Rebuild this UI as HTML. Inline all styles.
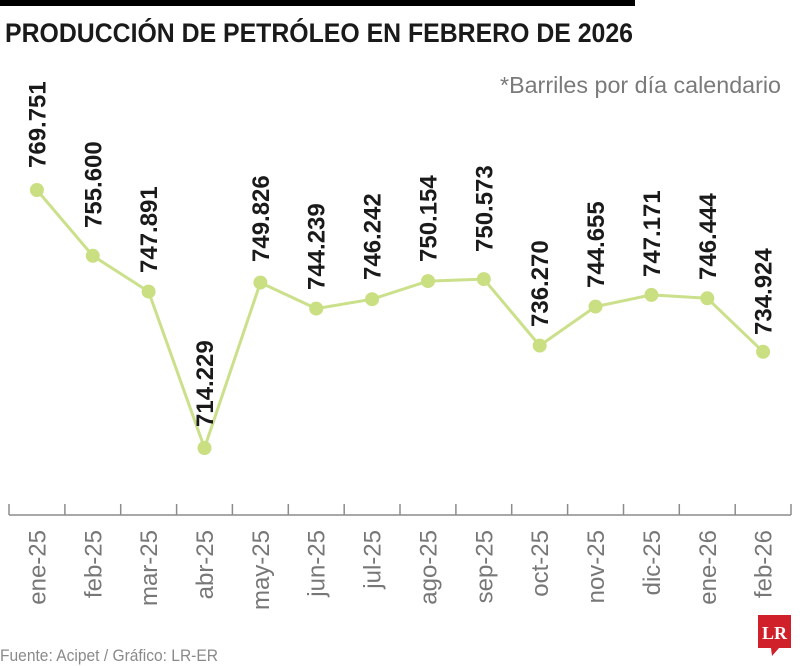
<!DOCTYPE html>
<html>
<head>
<meta charset="utf-8">
<style>
  html, body { margin: 0; padding: 0; background: #ffffff; }
  body { width: 800px; height: 666px; overflow: hidden; }
  svg { display: block; }
</style>
</head>
<body>
<svg width="800" height="666" viewBox="0 0 800 666" xmlns="http://www.w3.org/2000/svg">
  <rect x="0" y="0" width="800" height="666" fill="#ffffff"/>
  <!-- top bar -->
  <rect x="0" y="0" width="635" height="6" fill="#000000"/>
  <!-- title -->
  <text x="5" y="42" font-family="Liberation Sans, sans-serif" font-weight="bold" font-size="27" fill="#1a1a1a" textLength="628" lengthAdjust="spacingAndGlyphs">PRODUCCIÓN DE PETRÓLEO EN FEBRERO DE 2026</text>
  <!-- subtitle -->
  <text x="500" y="93" font-family="Liberation Sans, sans-serif" font-size="23" fill="#7a7a7a" textLength="281" lengthAdjust="spacingAndGlyphs">*Barriles por día calendario</text>

  <!-- axis -->
  <g stroke="#8c8c8c" stroke-width="1.5" fill="none">
    <line x1="9" y1="515" x2="791" y2="515"/>
    <line x1="9" y1="504" x2="9" y2="515"/>
    <line x1="64.9" y1="504" x2="64.9" y2="515"/>
    <line x1="120.7" y1="504" x2="120.7" y2="515"/>
    <line x1="176.6" y1="504" x2="176.6" y2="515"/>
    <line x1="232.4" y1="504" x2="232.4" y2="515"/>
    <line x1="288.3" y1="504" x2="288.3" y2="515"/>
    <line x1="344.2" y1="504" x2="344.2" y2="515"/>
    <line x1="400" y1="504" x2="400" y2="515"/>
    <line x1="455.9" y1="504" x2="455.9" y2="515"/>
    <line x1="511.7" y1="504" x2="511.7" y2="515"/>
    <line x1="567.6" y1="504" x2="567.6" y2="515"/>
    <line x1="623.5" y1="504" x2="623.5" y2="515"/>
    <line x1="679.3" y1="504" x2="679.3" y2="515"/>
    <line x1="735.2" y1="504" x2="735.2" y2="515"/>
    <line x1="791" y1="504" x2="791" y2="515"/>
  </g>

  <!-- x labels -->
  <g font-family="Liberation Sans, sans-serif" font-size="24" fill="#777777" text-anchor="end">
    <text transform="translate(45.4,530) rotate(-90)">ene-25</text>
    <text transform="translate(101.3,530) rotate(-90)">feb-25</text>
    <text transform="translate(157.1,530) rotate(-90)">mar-25</text>
    <text transform="translate(213,530) rotate(-90)">abr-25</text>
    <text transform="translate(268.9,530) rotate(-90)">may-25</text>
    <text transform="translate(324.7,530) rotate(-90)">jun-25</text>
    <text transform="translate(380.6,530) rotate(-90)">jul-25</text>
    <text transform="translate(436.5,530) rotate(-90)">ago-25</text>
    <text transform="translate(492.3,530) rotate(-90)">sep-25</text>
    <text transform="translate(548.2,530) rotate(-90)">oct-25</text>
    <text transform="translate(604,530) rotate(-90)">nov-25</text>
    <text transform="translate(659.9,530) rotate(-90)">dic-25</text>
    <text transform="translate(715.8,530) rotate(-90)">ene-26</text>
    <text transform="translate(771.6,530) rotate(-90)">feb-26</text>
  </g>

  <!-- series line -->
  <polyline fill="none" stroke="#cbe08a" stroke-width="3" stroke-linejoin="round"
    points="36.9,190 92.8,255.8 148.6,291.6 204.5,448 260.4,282.6 316.2,308.6 372.1,299.2 428,281.1 483.8,279.1 539.7,345.6 595.5,306.6 651.4,294.9 707.3,298.3 763.1,351.8"/>
  <g fill="#c9df82">
    <circle cx="36.9" cy="190" r="7"/>
    <circle cx="92.8" cy="255.8" r="7"/>
    <circle cx="148.6" cy="291.6" r="7"/>
    <circle cx="204.5" cy="448" r="7"/>
    <circle cx="260.4" cy="282.6" r="7"/>
    <circle cx="316.2" cy="308.6" r="7"/>
    <circle cx="372.1" cy="299.2" r="7"/>
    <circle cx="428" cy="281.1" r="7"/>
    <circle cx="483.8" cy="279.1" r="7"/>
    <circle cx="539.7" cy="345.6" r="7"/>
    <circle cx="595.5" cy="306.6" r="7"/>
    <circle cx="651.4" cy="294.9" r="7"/>
    <circle cx="707.3" cy="298.3" r="7"/>
    <circle cx="763.1" cy="351.8" r="7"/>
  </g>

  <!-- value labels -->
  <g font-family="Liberation Sans, sans-serif" font-size="24" font-weight="bold" fill="#1a1a1a" text-anchor="start">
    <text transform="translate(45.4,168) rotate(-90)">769.751</text>
    <text transform="translate(101.3,228) rotate(-90)">755.600</text>
    <text transform="translate(157.1,273) rotate(-90)">747.891</text>
    <text transform="translate(213,427) rotate(-90)">714.229</text>
    <text transform="translate(268.9,262) rotate(-90)">749.826</text>
    <text transform="translate(324.7,290) rotate(-90)">744.239</text>
    <text transform="translate(380.6,280) rotate(-90)">746.242</text>
    <text transform="translate(436.5,262) rotate(-90)">750.154</text>
    <text transform="translate(492.3,252) rotate(-90)">750.573</text>
    <text transform="translate(548.2,327) rotate(-90)">736.270</text>
    <text transform="translate(604,288) rotate(-90)">744.655</text>
    <text transform="translate(659.9,277) rotate(-90)">747.171</text>
    <text transform="translate(715.8,280) rotate(-90)">746.444</text>
    <text transform="translate(771.6,335) rotate(-90)">734.924</text>
  </g>

  <!-- footer -->
  <text x="0" y="661" font-family="Liberation Sans, sans-serif" font-size="17" fill="#8a8a8a" textLength="218" lengthAdjust="spacingAndGlyphs">Fuente: Acipet / Gráfico: LR-ER</text>

  <!-- LR logo -->
  <path d="M758,615 H791 V648 H779 L772,656 L771,648 H758 Z" fill="#d0202a"/>
  <text x="774.5" y="639" font-family="Liberation Serif, serif" font-weight="bold" font-size="18" fill="#ffffff" text-anchor="middle">LR</text>
</svg>
</body>
</html>
